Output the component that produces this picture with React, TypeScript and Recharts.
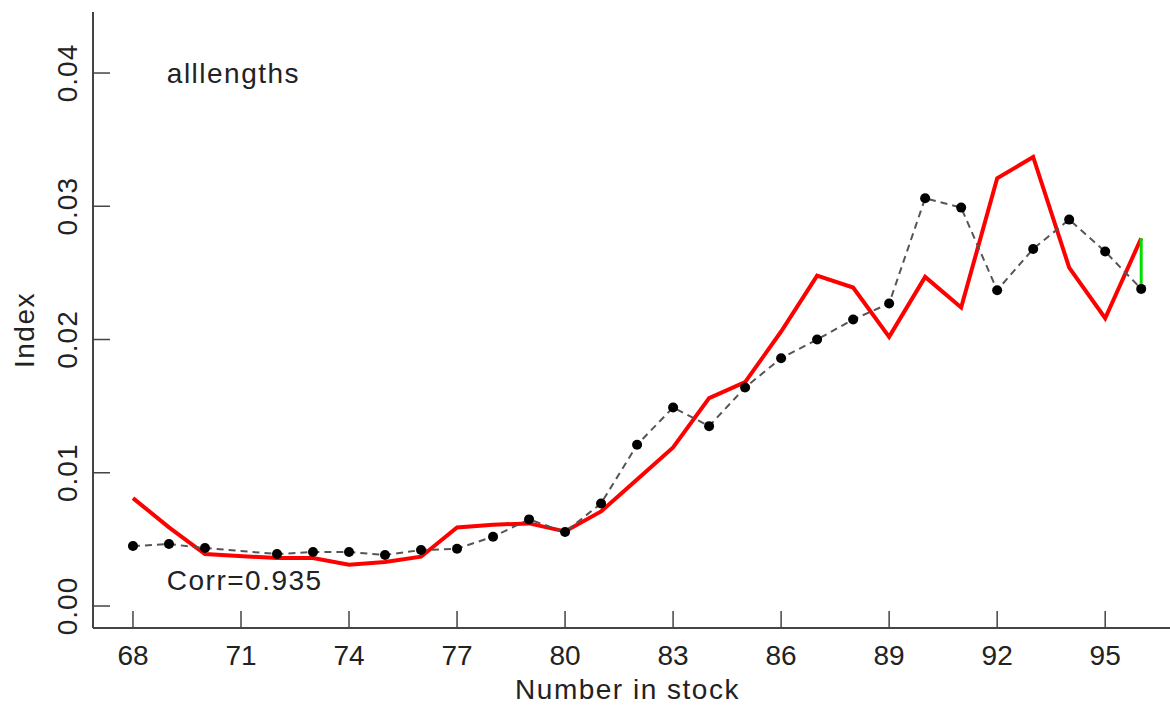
import * as React from "react"
import {
  LineChart, Line,
  XAxis, YAxis,
  ReferenceDot,
} from "recharts"

// ── Data ──────────────────────────────────────────────────────
// year 71 is absent in the source series
const YEARS = [68, 69, 70, 72, 73, 74, 75, 76, 77, 78, 79, 80, 81, 82, 83, 84, 85, 86, 87, 88, 89, 90, 91, 92, 93, 94, 95, 96]
const INDEX_OBS = [0.0045, 0.00465, 0.00435, 0.0039, 0.00405, 0.00405, 0.00383, 0.0042, 0.0043, 0.0052, 0.0065, 0.00555, 0.0077, 0.0121, 0.0149, 0.0135, 0.0164, 0.0186, 0.0200, 0.0215, 0.0227, 0.0306, 0.0299, 0.0237, 0.0268, 0.0290, 0.0266, 0.0238]
const STOCK_FIT = [0.0081, 0.0059, 0.0039, 0.0036, 0.0036, 0.0031, 0.0033, 0.0037, 0.0059, 0.0061, 0.0062, 0.0056, 0.0071, 0.0095, 0.0119, 0.0156, 0.0168, 0.0206, 0.0248, 0.0239, 0.0202, 0.0247, 0.0224, 0.0321, 0.0337, 0.0254, 0.0216, 0.0276]

const X_TICKS = [68, 71, 74, 77, 80, 83, 86, 89, 92, 95]
const Y_TICKS = [0, 0.01, 0.02, 0.03, 0.04]
const X_DOMAIN = [66.89, 96.8]
const Y_DOMAIN = [-0.00165, 0.04458]

const TITLE = "alllengths"
const CORR_TEXT = "Corr=0.935"

// table for recharts
const rows = YEARS.map((yr, i) => ({ yr, obs: INDEX_OBS[i], fit: STOCK_FIT[i] }))
const last = YEARS.length - 1
const residual = [
  { yr: YEARS[last], v: INDEX_OBS[last] },
  { yr: YEARS[last], v: STOCK_FIT[last] },
]

// ── Styles ────────────────────────────────────────────────────
const FONT = "'Liberation Sans', Arial, sans-serif"
const TEXT_COL = "#222"
const AXIS_COL = "#444"
const SPACING = 1.5

function XTick(props: any) {
  const { x, y, payload } = props
  return (
    <g>
      <line x1={x} x2={x} y1={y} y2={y - 17} stroke={AXIS_COL} strokeWidth={1.5} />
      <text x={x} y={y + 37} textAnchor="middle" fontFamily={FONT} fontSize={28} fill={TEXT_COL}>
        {payload.value}
      </text>
    </g>
  )
}

function YTick(props: any) {
  const { x, y, payload } = props
  const tx = x - 16
  return (
    <g>
      <line x1={x} x2={x + 17} y1={y} y2={y} stroke={AXIS_COL} strokeWidth={1.5} />
      <text
        x={tx} y={y}
        transform={`rotate(-90, ${tx}, ${y})`}
        textAnchor="middle"
        fontFamily={FONT} fontSize={28} fill={TEXT_COL}
        letterSpacing={1}
      >
        {Number(payload.value).toFixed(2)}
      </text>
    </g>
  )
}

const noteLabel = (txt: string) => (p: any) => {
  const vb = p.viewBox
  return (
    <text x={vb.x} y={vb.y + 10} fontFamily={FONT} fontSize={28} fill={TEXT_COL} letterSpacing={SPACING}>
      {txt}
    </text>
  )
}

export default function App() {
  return (
    <div style={{ position: "absolute", left: 0, top: 0, width: 1170, height: 706, background: "#fff" }}>
      <LineChart
        width={1170}
        height={706}
        data={rows}
        margin={{ top: 12, right: 0, bottom: 0, left: 0 }}
      >
        <XAxis
          dataKey="yr"
          type="number"
          domain={X_DOMAIN}
          ticks={X_TICKS}
          allowDataOverflow
          height={78}
          tickSize={0}
          tickMargin={0}
          tickLine={false}
          axisLine={{ stroke: AXIS_COL, strokeWidth: 2 }}
          tick={<XTick />}
          interval={0}
          label={{
            content: (p: any) => {
              const vb = p.viewBox
              return (
                <text x={vb.x + vb.width / 2 - 4} y={vb.y + 71} textAnchor="middle" fontFamily={FONT} fontSize={28} fill={TEXT_COL} letterSpacing={SPACING}>
                  Number in stock
                </text>
              )
            },
          }}
        />
        <XAxis
          xAxisId="top"
          orientation="top"
          dataKey="yr"
          type="number"
          domain={X_DOMAIN}
          allowDataOverflow
          height={0}
          tick={false}
          tickLine={false}
          axisLine={{ stroke: "#999", strokeWidth: 3 }}
        />
        <YAxis
          type="number"
          domain={Y_DOMAIN}
          ticks={Y_TICKS}
          allowDataOverflow
          width={93}
          tickSize={0}
          tickMargin={0}
          tickLine={false}
          axisLine={{ stroke: AXIS_COL, strokeWidth: 2 }}
          tick={<YTick />}
          interval={0}
          label={{
            content: (p: any) => {
              const vb = p.viewBox
              const cx = vb.x + 34
              const cy = vb.y + vb.height / 2 + 10
              return (
                <text x={cx} y={cy} transform={`rotate(-90, ${cx}, ${cy})`} textAnchor="middle" fontFamily={FONT} fontSize={28} fill={TEXT_COL} letterSpacing={SPACING}>
                  Index
                </text>
              )
            },
          }}
        />

        <Line
          dataKey="fit"
          type="linear"
          stroke="#ff0000"
          strokeWidth={4}
          dot={false}
          activeDot={false}
          isAnimationActive={false}
        />
        <Line
          dataKey="obs"
          type="linear"
          stroke="#555"
          strokeWidth={2}
          strokeDasharray="7 5"
          dot={{ r: 5, fill: "#000", stroke: "#000", strokeWidth: 0 }}
          activeDot={false}
          isAnimationActive={false}
        />
        <Line
          data={residual}
          dataKey="v"
          type="linear"
          stroke="#00e000"
          strokeWidth={3}
          dot={false}
          activeDot={false}
          isAnimationActive={false}
        />

        <ReferenceDot x={68.94} y={0.04} r={0} fill="none" stroke="none" label={{ content: noteLabel(TITLE) }} />
        <ReferenceDot x={68.94} y={0.00195} r={0} fill="none" stroke="none" label={{ content: noteLabel(CORR_TEXT) }} />
      </LineChart>
    </div>
  )
}
